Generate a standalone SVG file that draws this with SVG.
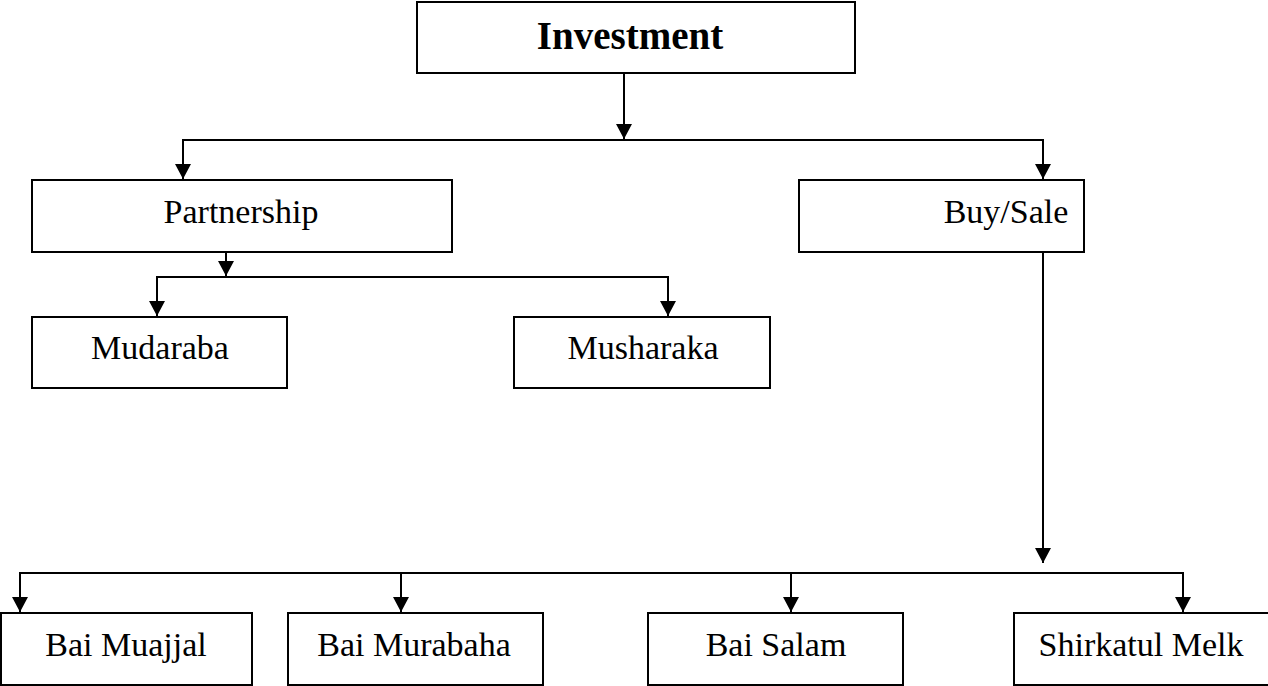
<svg xmlns="http://www.w3.org/2000/svg" width="1268" height="686" viewBox="0 0 1268 686">
<style>
.box{fill:#fff;stroke:#000;stroke-width:2}
.lbl{font-family:"Liberation Serif","Times New Roman",serif;font-size:34px;fill:#000;text-anchor:middle}
.title{font-family:"Liberation Serif","Times New Roman",serif;font-size:39px;font-weight:bold;fill:#000;text-anchor:middle}
.con{fill:none;stroke:#000;stroke-width:2}
</style>
<defs>
<marker id="arr" markerUnits="userSpaceOnUse" markerWidth="18" markerHeight="18" viewBox="0 -9 18 18" refX="15" refY="0" orient="auto">
<path d="M0,-8 L15,0 L0,8 z" fill="#000"/>
</marker>
</defs>
<rect width="1268" height="686" fill="#fff"/>
<g id="connectors">
<line class="con" x1="624" y1="73" x2="624" y2="139" marker-end="url(#arr)"/>
<polyline class="con" points="183,179 183,140 1043,140 1043,179"/>
<line class="con" x1="183" y1="140" x2="183" y2="179" marker-end="url(#arr)"/>
<line class="con" x1="1043" y1="140" x2="1043" y2="179" marker-end="url(#arr)"/>
<line class="con" x1="226" y1="246" x2="226" y2="276" marker-end="url(#arr)"/>
<polyline class="con" points="157,316 157,277 668,277 668,316"/>
<line class="con" x1="157" y1="277" x2="157" y2="316" marker-end="url(#arr)"/>
<line class="con" x1="668" y1="277" x2="668" y2="316" marker-end="url(#arr)"/>
<line class="con" x1="1043" y1="252" x2="1043" y2="563" marker-end="url(#arr)"/>
<polyline class="con" points="20,612 20,573 1183,573 1183,612"/>
<line class="con" x1="20" y1="573" x2="20" y2="612" marker-end="url(#arr)"/>
<line class="con" x1="401" y1="573" x2="401" y2="612" marker-end="url(#arr)"/>
<line class="con" x1="791" y1="573" x2="791" y2="612" marker-end="url(#arr)"/>
<line class="con" x1="1183" y1="573" x2="1183" y2="612" marker-end="url(#arr)"/>
</g>
<g id="investment">
<rect class="box" x="417" y="2" width="438" height="71"/>
<text class="title" x="630" y="49">Investment</text>
</g>
<g id="partnership">
<rect class="box" x="32" y="180" width="420" height="72"/>
<text class="lbl" x="241" y="223">Partnership</text>
</g>
<g id="buysale">
<rect class="box" x="799" y="180" width="285" height="72"/>
<text class="lbl" x="1006" y="223">Buy/Sale</text>
</g>
<g id="mudaraba">
<rect class="box" x="32" y="317" width="255" height="71"/>
<text class="lbl" x="160" y="359">Mudaraba</text>
</g>
<g id="musharaka">
<rect class="box" x="514" y="317" width="256" height="71"/>
<text class="lbl" x="643" y="359">Musharaka</text>
</g>
<g id="baimuajjal">
<rect class="box" x="1" y="613" width="251" height="72"/>
<text class="lbl" x="126" y="656">Bai Muajjal</text>
</g>
<g id="baimurabaha">
<rect class="box" x="288" y="613" width="255" height="72"/>
<text class="lbl" x="414" y="656">Bai Murabaha</text>
</g>
<g id="baisalam">
<rect class="box" x="648" y="613" width="255" height="72"/>
<text class="lbl" x="776" y="656">Bai Salam</text>
</g>
<g id="shirkatulmelk">
<rect class="box" x="1014" y="613" width="260" height="72"/>
<text class="lbl" x="1141" y="656">Shirkatul Melk</text>
</g>
</svg>
